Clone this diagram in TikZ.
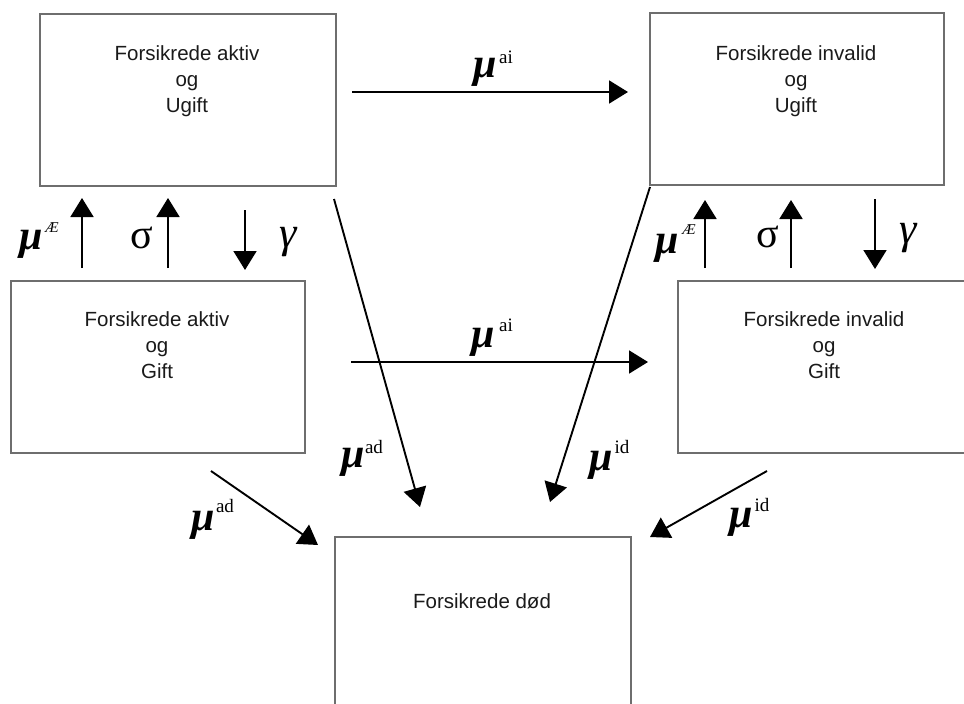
\documentclass[tikz,border=0pt]{standalone}
\usepackage{fontspec}
\setmainfont{Liberation Sans}
\newfontfamily\lserif{Liberation Serif}
\usetikzlibrary{arrows.meta}
\definecolor{boxgray}{HTML}{6E6E6E}
\definecolor{textgray}{HTML}{1A1A1A}
\begin{document}
\begin{tikzpicture}[x=1pt,y=-1pt,
  stbox/.style={draw=boxgray, line width=1.6pt, inner sep=0pt, minimum height=172pt, anchor=north west},
  stlabel/.style={inner sep=0pt, anchor=north, align=center, font=\fontsize{20.5}{26}\selectfont, text=textgray},
  arr/.style={line width=1.9pt, -{Triangle[length=19pt,width=23pt]}},
  rate/.style={inner sep=0pt, font=\lserif\fontsize{42}{42}\selectfont\bfseries\itshape},
  gam/.style={inner sep=0pt, font=\lserif\fontsize{44}{44}\selectfont\itshape},
  sig/.style={inner sep=0pt, font=\lserif\fontsize{42}{42}\selectfont},
  supx/.style={inner sep=0pt, font=\lserif\fontsize{19}{19}\selectfont},
  supit/.style={inner sep=0pt, font=\lserif\fontsize{15}{15}\selectfont\itshape},
]
\useasboundingbox (0,0) rectangle (964,704);
\fill[white] (0,0) rectangle (964,704);
\begin{scope}
\clip (0,0) rectangle (964,704);
% boxes
\node[stbox, minimum width=296pt] (A) at (39,13) {};
\node[stbox, minimum width=294pt] (B) at (649,12) {};
\node[stbox, minimum width=294pt] (C) at (10,280) {};
\node[stbox, minimum width=294pt] (D) at (677,280) {};
\node[stbox, minimum width=296pt, minimum height=190pt] (E) at (334,536) {};
\end{scope}
% box texts
\node[stlabel] (tA) at (187,45) {Forsikrede aktiv\\og\\Ugift};
\node[stlabel] (tB) at (796,45) {Forsikrede invalid\\og\\Ugift};
\node[stlabel] (tC) at (157,311) {Forsikrede aktiv\\og\\Gift};
\node[stlabel] (tD) at (824,311) {Forsikrede invalid\\og\\Gift};
\node[stlabel] (tE) at (482,593) {Forsikrede død};
% connector end points
\coordinate (p1s) at (352,92);  \coordinate (p1e) at (628,92);
\coordinate (p2s) at (351,362); \coordinate (p2e) at (648,362);
\coordinate (p3s) at (82,268);  \coordinate (p3e) at (82,198);
\coordinate (p4s) at (168,268); \coordinate (p4e) at (168,198);
\coordinate (p5s) at (245,210); \coordinate (p5e) at (245,270);
\coordinate (p6s) at (705,268); \coordinate (p6e) at (705,200);
\coordinate (p7s) at (791,268); \coordinate (p7e) at (791,200);
\coordinate (p8s) at (875,199); \coordinate (p8e) at (875,269);
\coordinate (p9s) at (334,199); \coordinate (p9e) at (420,507);
\coordinate (p10s) at (650,187); \coordinate (p10e) at (550,502);
\coordinate (p11s) at (211,471); \coordinate (p11e) at (318,545);
\coordinate (p12s) at (767,471); \coordinate (p12e) at (650,537);
\foreach \i in {1,...,12} {\draw[arr] (p\i s) -- (p\i e);}
% rate labels
\node[rate] (mu1) at (485,72) {μ};  \node[supx] (s1) at (506,57) {ai};
\node[rate] (mu2) at (483,342) {μ}; \node[supx] (s2) at (506,325) {ai};
\node[rate] (mu3) at (31,244) {μ};  \node[supit] (s3) at (52,228) {Æ};
\node[sig] (sg1) at (142,238) {σ};
\node[gam] (gm1) at (288,242) {γ};
\node[rate] (mu4) at (667,248) {μ}; \node[supit] (s4) at (689,230) {Æ};
\node[sig] (sg2) at (768,237) {σ};
\node[gam] (gm2) at (908,238) {γ};
\node[rate] (mu5) at (353,462) {μ}; \node[supx] (s5) at (374,447) {ad};
\node[rate] (mu6) at (203,525) {μ}; \node[supx] (s6) at (225,506) {ad};
\node[rate] (mu7) at (601,465) {μ}; \node[supx] (s7) at (622,447) {id};
\node[rate] (mu8) at (741,522) {μ}; \node[supx] (s8) at (762,505) {id};
\end{tikzpicture}
\end{document}
